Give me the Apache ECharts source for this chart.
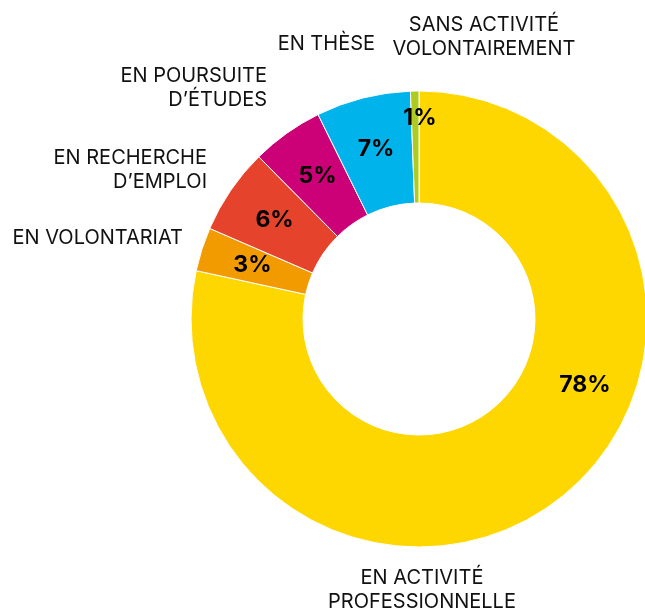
<!DOCTYPE html>
<html>
<head>
<meta charset="utf-8">
<script src="https://cdn.jsdelivr.net/npm/echarts@6/dist/echarts.min.js"></script>
<style>
  html, body { margin: 0; background: #fff; }
  #chart { width: 645px; height: 614px; }
</style>
</head>
<body>
<div id="chart"></div>
<script>
var categories = [
  'EN ACTIVITÉ\nPROFESSIONNELLE',
  'EN VOLONTARIAT',
  'EN RECHERCHE\nD’EMPLOI',
  'EN POURSUITE\nD’ÉTUDES',
  'EN THÈSE',
  'SANS ACTIVITÉ\nVOLONTAIREMENT'
];
var shares = [78.4, 3.1, 6.1, 5.1, 6.7, 0.6];
var colors = ['#FED600', '#F29B00', '#E6432C', '#CC0077', '#00B4EB', '#AFCB1F'];

// where the category names sit around the ring
var nameSpots = [
  { x: 422, y: 590, align: 'center' },
  { x: 183, y: 238, align: 'right' },
  { x: 207, y: 170, align: 'right' },
  { x: 267, y: 88, align: 'right' },
  { x: 375, y: 44, align: 'right' },
  { x: 484, y: 37, align: 'center' }
];
// percent labels moved off their default spot
var pctSpots = { 0: { x: 585, y: 385 }, 5: { x: 420, y: 118 } };

var data = categories.map(function (c, i) {
  return { name: c, value: shares[i], itemStyle: { color: colors[i] } };
});

var chart = echarts.init(document.getElementById('chart'));

chart.setOption({
  animation: false,
  series: [{
    name: 'pct',
    type: 'pie',
    center: [419, 319],
    radius: [116, 228],
    startAngle: 90,
    avoidLabelOverlap: false,
    itemStyle: { borderColor: '#fff', borderWidth: 1 },
    label: {
      show: true,
      position: 'inside',
      formatter: function (p) { return Math.round(p.value) + '%'; },
      color: '#000',
      fontFamily: 'Inter, sans-serif',
      fontWeight: 'bold',
      fontSize: 23
    },
    labelLine: { show: false },
    labelLayout: function (p) {
      var s = pctSpots[p.dataIndex];
      return s ? { x: s.x, y: s.y, align: 'center', verticalAlign: 'middle' } : {};
    },
    data: data
  }, {
    name: 'names',
    type: 'pie',
    silent: true,
    center: [419, 319],
    radius: [116, 228],
    startAngle: 90,
    avoidLabelOverlap: false,
    itemStyle: { color: 'rgba(0,0,0,0)', borderWidth: 0 },
    label: {
      show: true,
      position: 'outside',
      color: '#111',
      fontFamily: 'Inter, sans-serif',
      fontSize: 20,
      lineHeight: 24
    },
    labelLine: { show: false },
    labelLayout: function (p) {
      var s = nameSpots[p.dataIndex];
      return { x: s.x, y: s.y, align: s.align, verticalAlign: 'middle' };
    },
    data: categories.map(function (c, i) { return { name: c, value: shares[i] }; })
  }]
});
</script>
</body>
</html>
